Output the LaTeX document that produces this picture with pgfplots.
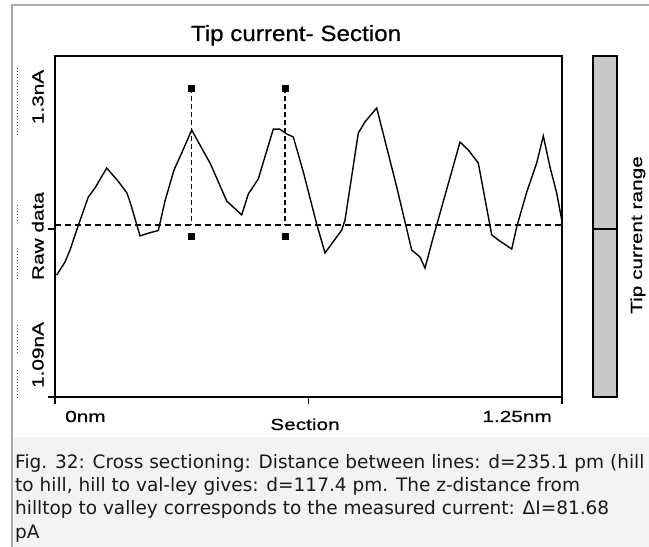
\documentclass[border=0pt]{standalone}
\usepackage{pgfplots}
\pgfplotsset{compat=1.18}
\usepackage{fontspec}
\setmainfont{DejaVu Sans}
\newfontfamily\chartfont[FakeStretch=1.3,FakeBold=0.6]{Liberation Sans}
\newfontfamily\titlefont[FakeStretch=1.1,FakeBold=0.6]{Liberation Sans}
\definecolor{frame}{HTML}{ABABAB}
\definecolor{capbg}{HTML}{F3F3F3}
\definecolor{bar}{HTML}{C8C8C8}

\begin{document}
\begin{tikzpicture}
\begin{scope}[x=1bp,y=1bp]
\path[use as bounding box] (0,0) rectangle (649,547);
% caption panel and window frame
\fill[capbg] (13,0) rectangle (649,110);
\draw[frame,line width=2bp] (12,0) -- (12,542) -- (649,542);
\end{scope}

\begin{axis}[%
at={(55bp,150bp)},
anchor=south west,
scale only axis,
width=507bp,
height=341bp,
xmin=0,
xmax=1.25,
ymin=1.09,
ymax=1.30,
xtick={0,0.625,1.25},
ytick={1.09,1.1935},
xticklabels={,,},
yticklabels={,},
tick pos=left,
tick align=outside,
major tick length=7bp,
every tick/.style={black,line width=1.5bp},
axis line style={line width=1.5bp},
clip=false
]
% measured profile
\addplot [color=black,line width=1.4bp]
  table[row sep=crcr]{0.0042	1.1651\\
0.0247	1.1731\\
0.0370	1.1805\\
0.0535	1.1928\\
0.0821	1.2132\\
0.0986	1.2187\\
0.1275	1.2310\\
0.1553	1.2230\\
0.1775	1.2156\\
0.1874	1.2082\\
0.2096	1.1892\\
0.2318	1.1910\\
0.2547	1.1925\\
0.2712	1.2107\\
0.2934	1.2298\\
0.3124	1.2403\\
0.3370	1.2544\\
0.3834	1.2335\\
0.4233	1.2107\\
0.4603	1.2021\\
0.4766	1.2150\\
0.5012	1.2243\\
0.5382	1.2550\\
0.5535	1.2550\\
0.5713	1.2520\\
0.5875	1.2501\\
0.6122	1.2286\\
0.6452	1.1965\\
0.6657	1.1787\\
0.7069	1.1928\\
0.7150	1.1990\\
0.7478	1.2526\\
0.7643	1.2594\\
0.7931	1.2680\\
0.8425	1.2193\\
0.8794	1.1805\\
0.8999	1.1762\\
0.9122	1.1694\\
0.9327	1.1885\\
0.9985	1.2470\\
1.0190	1.2421\\
1.0436	1.2341\\
1.0767	1.1898\\
1.0930	1.1867\\
1.1260	1.1811\\
1.1383	1.1947\\
1.1630	1.2162\\
1.1876	1.2341\\
1.2039	1.2507\\
1.2204	1.2316\\
1.2369	1.2156\\
1.2493	1.1990\\
};
% reference level
\addplot [color=black,line width=1.2bp,dash pattern=on 6bp off 4bp]
  table[row sep=crcr]{0	1.1959\\
1.25	1.1959\\
};
% cursor lines
\addplot [color=black,line width=1.2bp,dash pattern=on 5bp off 3bp]
  table[row sep=crcr]{0.3370	1.2803\\
0.3370	1.1959\\
};
\addplot [color=black,line width=1.2bp,dash pattern=on 5bp off 3bp]
  table[row sep=crcr]{0.5671	1.2803\\
0.5671	1.1959\\
};
\addplot [only marks,mark=square*,mark size=3bp,color=black]
  table[row sep=crcr]{0.3370	1.2803\\
0.3370	1.1892\\
0.5671	1.2803\\
0.5671	1.1892\\
};
\end{axis}

\begin{scope}[x=1bp,y=1bp]
% tip current range bar
\draw[fill=bar,line width=1.3bp] (593,150) rectangle (617,491);
\draw[line width=1.3bp] (593,318) -- (617,318);

% dotted guides at the left edge
\draw[black!70,line width=0.9bp,dash pattern=on 1bp off 2bp]
  (17,479) -- (17,410) (17,342) -- (17,325) (17,299) -- (17,267)
  (17,222) -- (17,192) (17,177) -- (17,147);

% texts of the chart
\node[anchor=base,inner sep=0] at (296,506) {\titlefont\fontsize{22bp}{24bp}\selectfont Tip current- Section};
\node[anchor=base,rotate=90,inner sep=0] at (43.5,450) {\chartfont\fontsize{16bp}{18bp}\selectfont 1.3nA};
\node[anchor=base,rotate=90,inner sep=0] at (43.5,311) {\chartfont\fontsize{16bp}{18bp}\selectfont Raw data};
\node[anchor=base,rotate=90,inner sep=0] at (43.5,192) {\chartfont\fontsize{16bp}{18bp}\selectfont 1.09nA};
\node[anchor=base,rotate=90,inner sep=0] at (642,312) {\chartfont\fontsize{16bp}{18bp}\selectfont Tip current range};
\node[anchor=base west,inner sep=0] at (65,125) {\chartfont\fontsize{16bp}{18bp}\selectfont 0nm};
\node[anchor=base east,inner sep=0] at (552,125) {\chartfont\fontsize{16bp}{18bp}\selectfont 1.25nm};
\node[anchor=base,inner sep=0] at (305,117) {\chartfont\fontsize{16bp}{18bp}\selectfont Section};

% caption
\begin{scope}[every node/.style={anchor=base west,inner sep=0,text=black!90,font=\fontsize{18.5bp}{23bp}\selectfont}]
\node at (15,78.7) {Fig. 32: Cross sectioning: Distance between lines: d=235.1 pm (hill};
\node at (15,55.4) {to hill, hill to val-ley gives: d=117.4 pm. The z-distance from};
\node at (15,32.1) {hilltop to valley corresponds to the measured current: ΔI=81.68};
\node at (15,8.8) {pA};
\end{scope}
\end{scope}
\end{tikzpicture}
\end{document}
